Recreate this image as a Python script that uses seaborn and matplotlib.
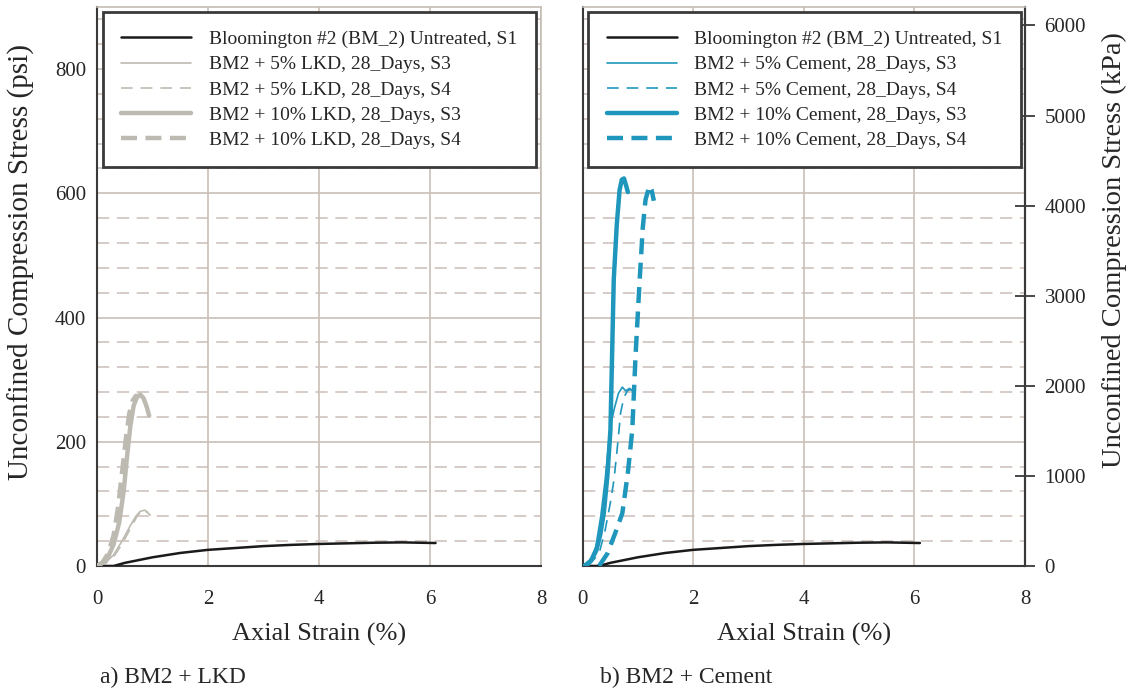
import numpy as np
import pandas as pd
import matplotlib
matplotlib.use("Agg")
import matplotlib.pyplot as plt
import seaborn as sns

# ---------------- data ----------------
untreated_strain = [0.0, 0.3, 0.5, 1.0, 1.5, 2.0, 2.5, 3.0, 3.5, 4.0, 4.5, 5.0, 5.5, 6.1]
untreated_stress = [0.0, 0.0, 5, 14, 21, 26, 29, 32, 34, 35.5, 36.5, 37.5, 38, 37]

lkd5_s3_strain = [0.0, 0.15, 0.3, 0.45, 0.6, 0.7, 0.78, 0.86, 0.96]
lkd5_s3_stress = [0, 5, 18, 40, 65, 80, 88, 90, 82]
lkd5_s4_strain = [0.0, 0.15, 0.3, 0.45, 0.6, 0.72, 0.82, 0.92]
lkd5_s4_stress = [0, 4, 15, 35, 60, 80, 91, 86]
lkd10_s3_strain = [0.0, 0.1, 0.2, 0.3, 0.4, 0.48, 0.54, 0.6, 0.66, 0.72, 0.78, 0.84, 0.9, 0.94]
lkd10_s3_stress = [0, 5, 15, 35, 70, 120, 175, 225, 258, 272, 276, 270, 255, 242]
lkd10_s4_strain = [0.0, 0.1, 0.2, 0.3, 0.38, 0.45, 0.52, 0.58, 0.64, 0.7, 0.76]
lkd10_s4_stress = [0, 6, 20, 50, 95, 150, 205, 245, 266, 274, 272]

cem5_s3_strain = [0.03, 0.15, 0.24, 0.33, 0.41, 0.47, 0.5, 0.58, 0.65, 0.72, 0.78, 0.85, 0.92]
cem5_s3_stress = [0, 12, 31, 80, 139, 195, 224, 255, 278, 288, 282, 286, 281]
cem5_s4_strain = [0.1, 0.3, 0.41, 0.5, 0.57, 0.64, 0.69, 0.75, 0.82, 0.88, 0.94]
cem5_s4_stress = [0, 20, 58, 100, 139, 200, 247, 272, 283, 284, 280]
cem10_s3_strain = [0.03, 0.15, 0.25, 0.32, 0.385, 0.45, 0.505, 0.535, 0.565, 0.62, 0.67, 0.71, 0.75, 0.79, 0.82]
cem10_s3_stress = [0, 8, 25, 50, 85, 145, 219, 340, 461, 550, 605, 622, 624, 612, 602]
cem10_s4_strain = [0.3, 0.45, 0.6, 0.72, 0.82, 0.9, 0.96, 1.03, 1.09, 1.14, 1.21, 1.25, 1.29]
cem10_s4_stress = [0, 20, 55, 85, 150, 219, 340, 455, 545, 590, 612, 605, 588]

labels_lkd = ["Bloomington #2 (BM_2) Untreated, S1",
              "BM2 + 5% LKD, 28_Days, S3",
              "BM2 + 5% LKD, 28_Days, S4",
              "BM2 + 10% LKD, 28_Days, S3",
              "BM2 + 10% LKD, 28_Days, S4"]
labels_cem = ["Bloomington #2 (BM_2) Untreated, S1",
              "BM2 + 5% Cement, 28_Days, S3",
              "BM2 + 5% Cement, 28_Days, S4",
              "BM2 + 10% Cement, 28_Days, S3",
              "BM2 + 10% Cement, 28_Days, S4"]
x_ticks = [0, 2, 4, 6, 8]
psi_ticks = [0, 200, 400, 600, 800]
kpa_ticks = [0, 1000, 2000, 3000, 4000, 5000, 6000]
captions = ["a) BM2 + LKD", "b) BM2 + Cement"]

# ---------------- style ----------------
sns.set_style("white")
plt.rcParams['font.family'] = ['Liberation Serif', 'DejaVu Serif']

GRAY = "#bcbab1"
TEAL = "#1f97bc"
BLACK = "#1a1a1a"
GRID = "#cbbfb8"
DARK = "#3a3a3a"

fig = plt.figure(figsize=(11.3, 6.92), dpi=100)
W, H = 1130, 692
def axrect(x0, x1, ytop, ybot):
    return [x0 / W, 1 - ybot / H, (x1 - x0) / W, (ybot - ytop) / H]

axL = fig.add_axes(axrect(97, 541, 7, 566))
axR = fig.add_axes(axrect(582.5, 1025, 7, 566))

thin_dash = (0, (7, 4.8))
thick_dash = (0, (3.6, 1.9))

def draw(ax, color, series, labels):
    styles = [(BLACK, 1.8, '-'), (color, 1.2, '-'), (color, 1.2, thin_dash),
              (color, 3.2, '-'), (color, 3.2, thick_dash)]
    for (xs, ys), lab, (c, lw, ls) in zip(series, labels, styles):
        df = pd.DataFrame({"strain": xs, "stress": ys})
        sns.lineplot(data=df, x="strain", y="stress", ax=ax, color=c, lw=lw,
                     linestyle=ls, label=lab, sort=False, estimator=None,
                     solid_capstyle='round', dash_capstyle='butt', zorder=3)

TICK_FS = 15

def setup(ax, left_labels=True):
    ax.set_xlim(0, 8)
    ax.set_ylim(0, 900)
    ax.set_xticks(x_ticks)
    ax.set_yticks(psi_ticks)
    minor = [v for v in range(40, 900, 40) if v % 200 != 0]
    ax.set_yticks(minor, minor=True)
    ax.grid(True, which='major', color=GRID, lw=1.2, ls='-', zorder=0)
    ax.grid(True, which='minor', axis='y', color=GRID, lw=1.1, ls=(0, (8, 5)), zorder=0)
    ax.set_axisbelow(True)
    ax.tick_params(axis='x', which='major', direction='out', length=7, width=1.3,
                   color=DARK, labelsize=TICK_FS, pad=10)
    ax.tick_params(axis='y', which='minor', length=0)
    if left_labels:
        ax.tick_params(axis='y', which='major', direction='inout', length=14, width=1.3,
                       color=DARK, labelsize=TICK_FS, pad=1)
    else:
        ax.tick_params(axis='y', which='major', length=0, labelleft=False)
    ax.set_xlabel("Axial Strain (%)", fontsize=19, labelpad=10)
    for s in ['left', 'bottom']:
        ax.spines[s].set_color(DARK)
        ax.spines[s].set_linewidth(1.5)
    for s in ['top', 'right']:
        ax.spines[s].set_color("#c4bcb4")
        ax.spines[s].set_linewidth(1.2)

series_lkd = [(untreated_strain, untreated_stress), (lkd5_s3_strain, lkd5_s3_stress),
              (lkd5_s4_strain, lkd5_s4_stress), (lkd10_s3_strain, lkd10_s3_stress),
              (lkd10_s4_strain, lkd10_s4_stress)]
series_cem = [(untreated_strain, untreated_stress), (cem5_s3_strain, cem5_s3_stress),
              (cem5_s4_strain, cem5_s4_stress), (cem10_s3_strain, cem10_s3_stress),
              (cem10_s4_strain, cem10_s4_stress)]

draw(axL, GRAY, series_lkd, labels_lkd)
draw(axR, TEAL, series_cem, labels_cem)
setup(axL, True)
setup(axR, False)

axL.set_ylabel("Unconfined Compression Stress (psi)", fontsize=21)
axL.yaxis.set_label_coords(35 / W, 1 - 262 / H, transform=fig.transFigure)
axR.set_ylabel("")
axR.spines['right'].set_color(DARK)
axR.spines['right'].set_linewidth(1.5)

sec = axR.secondary_yaxis('right', functions=(lambda p: p * 6.89476, lambda k: k / 6.89476))
sec.set_yticks(kpa_ticks)
sec.tick_params(direction='inout', length=14, width=1.3, color=DARK, labelsize=TICK_FS, pad=7)
sec.spines['right'].set_color(DARK)
sec.spines['right'].set_linewidth(1.5)
sec.set_ylabel("Unconfined Compression Stress (kPa)", fontsize=20.5)
sec.yaxis.set_label_coords(1102 / W, 1 - 250 / H, transform=fig.transFigure)

for ax in (axL, axR):
    leg = ax.legend(loc='upper left', bbox_to_anchor=(0.0135, 0.991), borderaxespad=0,
                    fontsize=14, frameon=True, fancybox=False, framealpha=1,
                    handlelength=3.6, handletextpad=0.9, borderpad=0.95, labelspacing=0.39)
    leg.get_frame().set_edgecolor(DARK)
    leg.get_frame().set_linewidth(2.0)
    leg.set_zorder(10)

fig.text(100 / W, 1 - 677 / H, captions[0], fontsize=17, va='center', ha='left')
fig.text(600 / W, 1 - 677 / H, captions[1], fontsize=17, va='center', ha='left')

fig.savefig("out.png", dpi=100)
